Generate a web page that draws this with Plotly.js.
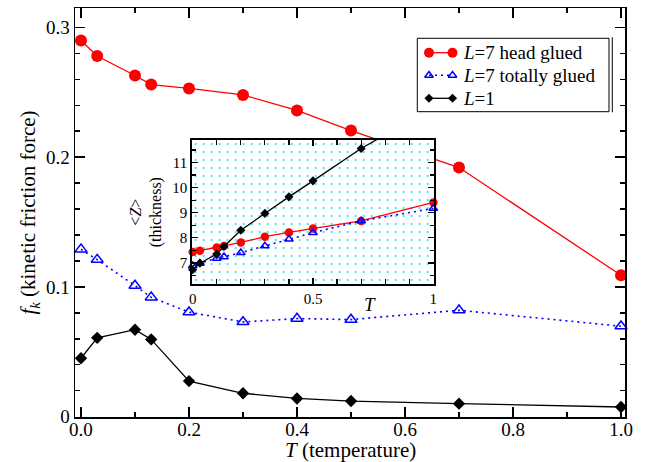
<!DOCTYPE html>
<html>
<head>
<meta charset="utf-8">
<script src="https://cdn.plot.ly/plotly-3.0.1.min.js"></script>
<style>html,body{margin:0;padding:0;background:#fff;}#chart{width:645px;height:462px;}</style>
</head>
<body>
<div id="chart"></div>
<script>
// ---- Main panel data: kinetic friction force vs temperature ----
var T = [0, 0.03, 0.1, 0.13, 0.2, 0.3, 0.4, 0.5, 0.7, 1.0];
var fkHeadGlued = [0.290, 0.278, 0.263, 0.256, 0.253, 0.248, 0.236, 0.2205, 0.192, 0.109];
var fkTotallyGlued = [0.129, 0.121, 0.101, 0.092, 0.0805, 0.073, 0.0756, 0.0748, 0.082, 0.0697];
var fkL1 = [0.045, 0.0607, 0.067, 0.0595, 0.0274, 0.018, 0.014, 0.012, 0.010, 0.0074];

// ---- Inset data: thickness <Z> vs temperature ----
var Tin = [0, 0.03, 0.1, 0.13, 0.2, 0.3, 0.4, 0.5, 0.7, 1.0];
var zHeadGlued = [7.43, 7.48, 7.61, 7.67, 7.81, 8.04, 8.21, 8.37, 8.67, 9.41];
var zTotallyGlued = [6.88, 6.98, 7.18, 7.24, 7.40, 7.67, 7.94, 8.20, 8.67, 9.17];
var zL1 = [6.72, 6.98, 7.35, 7.65, 8.30, 8.97, 9.63, 10.27, 11.56, 13.2];

// ---- Labels ----
var seriesNames = ['<i>L</i>=7 head glued', '<i>L</i>=7 totally glued', '<i>L</i>=1'];
var xTitle = '<i>T</i> (temperature)';
var yTitle = '<i>f<sub>k</sub></i> (kinetic friction force)';
var insetXTitle = '<i>T</i>';
var insetYTitle = '&lt;<i>Z</i>&gt;<br>(thickness)';
var mainXTicks = [0, 0.2, 0.4, 0.6, 0.8, 1.0];
var mainXTickText = ['0.0', '0.2', '0.4', '0.6', '0.8', '1.0'];
var mainYTicks = [0, 0.1, 0.2, 0.3];
var mainYTickText = ['0', '0.1', '0.2', '0.3'];
var insetXTicks = [0, 0.5, 1];
var insetXTickText = ['0', '0.5', '1'];
var insetYTicks = [7, 8, 9, 10, 11];
var insetYTickText = ['7', '8', '9', '10', '11'];

// ---- Styling / geometry ----
var FONT = '"Liberation Serif", "Times New Roman", serif';
var RED = '#ff0000', BLUE = '#0000ff', BLACK = '#000000';
var W = 645, H = 462, M = {l: 75, r: 20, t: 8, b: 45};
var plotL = M.l, plotR = W - M.r, plotT = M.t, plotB = H - M.b;
function pxX(x) { return (x - plotL) / (plotR - plotL); }
function pxY(y) { return (plotB - y) / (plotB - plotT); }

var insetXRange = [-0.004, 1.004];
var insetYRange = [6.14, 11.9];

function lineStyle(i) {
  if (i === 0) return {color: RED, width: 1.3};
  if (i === 1) return {color: BLUE, width: 1.6, dash: '2px,4px'};
  return {color: BLACK, width: 1.3};
}
function markerStyle(i, size) {
  if (i === 0) return {symbol: 'circle', color: RED, size: size};
  if (i === 1) return {symbol: 'triangle-up-open', color: BLUE, size: size, line: {width: 1.5, color: BLUE}};
  return {symbol: 'diamond', color: BLACK, size: size};
}
var mainSizes = [12, 10.5, 9.5], insetSizes = [8.5, 7.5, 7], legendSizes = [10, 7.5, 7];

var mainY = [fkHeadGlued, fkTotallyGlued, fkL1];
var insetY = [zHeadGlued, zTotallyGlued, zL1];

var traces = [];
for (var i = 0; i < 3; i++) {
  traces.push({x: T, y: mainY[i], name: seriesNames[i], type: 'scatter', mode: 'lines+markers',
    line: lineStyle(i), marker: markerStyle(i, mainSizes[i]), cliponaxis: false, showlegend: false});
}
// inset background (dotted cyan pattern), spanning the inset axis ranges
traces.push({type: 'bar', xaxis: 'x2', yaxis: 'y2',
  x: [(insetXRange[0] + insetXRange[1]) / 2], width: [insetXRange[1] - insetXRange[0]],
  base: [insetYRange[0]], y: [insetYRange[1] - insetYRange[0]],
  marker: {color: 'white', line: {width: 0},
           pattern: {shape: '.', fgcolor: '#00e8f0', bgcolor: 'white', size: 8, solidity: 0.05, fillmode: 'replace'}},
  showlegend: false, hoverinfo: 'skip'});
for (var i = 0; i < 3; i++) {
  traces.push({x: Tin, y: insetY[i], xaxis: 'x2', yaxis: 'y2', type: 'scatter', mode: 'lines+markers',
    line: lineStyle(i), marker: markerStyle(i, insetSizes[i]), showlegend: false, cliponaxis: false});
}

// ---- Hand-built legend (xmgrace style: marker - line - marker) ----
var legBox = {l: 417.3, r: 609, t: 38.3, b: 111.7};
var legRows = [52.7, 75.3, 98.3];
var legSampleL = 429, legSampleR = 452.5, legTextX = 461;
for (var i = 0; i < 3; i++) {
  traces.push({x: [legSampleL, legSampleR], y: [legRows[i], legRows[i]], xaxis: 'x3', yaxis: 'y3',
    type: 'scatter', mode: 'lines+markers', line: lineStyle(i), marker: markerStyle(i, legendSizes[i]),
    showlegend: false, hoverinfo: 'skip'});
}
var annotations = [
  {xref: 'paper', yref: 'paper', x: pxX(370), y: pxY(304), xanchor: 'center', yanchor: 'middle',
   text: insetXTitle, showarrow: false, font: {family: FONT, size: 19, color: BLACK}},
  {xref: 'paper', yref: 'paper', x: pxX(350), y: pxY(450), xanchor: 'center', yanchor: 'middle',
   text: xTitle, showarrow: false, font: {family: FONT, size: 21, color: BLACK}}
];
for (var i = 0; i < 3; i++) {
  annotations.push({xref: 'paper', yref: 'paper', x: pxX(legTextX), y: pxY(legRows[i]),
    xanchor: 'left', yanchor: 'middle', text: seriesNames[i], showarrow: false,
    font: {family: FONT, size: 19, color: BLACK}});
}
var shapes = [
  {type: 'rect', xref: 'paper', yref: 'paper', x0: pxX(legBox.l), x1: pxX(legBox.r), y0: pxY(legBox.b), y1: pxY(legBox.t),
   line: {color: BLACK, width: 1}, fillcolor: 'white', layer: 'below'},
  {type: 'line', xref: 'paper', yref: 'paper', x0: pxX(legBox.r + 3.3), x1: pxX(legBox.r + 3.3), y0: pxY(legBox.b + 0.6), y1: pxY(legBox.t - 1),
   line: {color: BLACK, width: 1}}
];

function axisCommon() {
  return {
    showline: true, linecolor: BLACK, linewidth: 1.5, mirror: 'allticks',
    ticks: 'inside', tickcolor: BLACK, tickwidth: 1.5,
    showgrid: false, zeroline: false, tickmode: 'array'
  };
}

var layout = {
  width: W, height: H,
  margin: {l: M.l, r: M.r, t: M.t, b: M.b, pad: 0},
  paper_bgcolor: 'white', plot_bgcolor: 'rgba(0,0,0,0)',
  font: {family: FONT, color: BLACK, size: 19},
  showlegend: false,
  xaxis: Object.assign(axisCommon(), {
    domain: [0, 1], anchor: 'y', range: [-0.0111, 1.0074],
    tickvals: mainXTicks, ticktext: mainXTickText, ticklen: 10, ticklabelstandoff: -5,
    minor: {dtick: 0.1, tick0: 0, ticks: 'inside', ticklen: 5, tickwidth: 1.5, tickcolor: BLACK, showgrid: false},
    tickfont: {family: FONT, size: 19}
  }),
  yaxis: Object.assign(axisCommon(), {
    domain: [0, 1], anchor: 'x', range: [-0.0003, 0.315],
    tickvals: mainYTicks, ticktext: mainYTickText, ticklen: 10,
    minor: {dtick: 0.02, tick0: 0, ticks: 'inside', ticklen: 5, tickwidth: 1.5, tickcolor: BLACK, showgrid: false},
    tickfont: {family: FONT, size: 19},
    title: {text: yTitle, font: {family: FONT, size: 21}, standoff: 4}
  }),
  xaxis2: Object.assign(axisCommon(), {
    domain: [0.2122, 0.6533], anchor: 'y2', range: insetXRange,
    tickvals: insetXTicks, ticktext: insetXTickText, ticklen: 6,
    minor: {dtick: 0.1, tick0: 0, ticks: 'inside', ticklen: 5, tickwidth: 1.2, tickcolor: BLACK, showgrid: false},
    tickfont: {family: FONT, size: 15}
  }),
  yaxis2: Object.assign(axisCommon(), {
    domain: [0.3244, 0.6773], anchor: 'x2', range: insetYRange,
    tickvals: insetYTicks, ticktext: insetYTickText, ticklen: 6,
    minor: {dtick: 0.5, tick0: 0, ticks: 'inside', ticklen: 4, tickwidth: 1.2, tickcolor: BLACK, showgrid: false},
    tickfont: {family: FONT, size: 15},
    title: {text: insetYTitle, font: {family: FONT, size: 16}, standoff: 6}
  }),
  xaxis3: {domain: [0, 1], anchor: 'y3', range: [plotL, plotR], visible: false, showgrid: false, zeroline: false},
  yaxis3: {domain: [0, 1], anchor: 'x3', range: [plotB, plotT], visible: false, showgrid: false, zeroline: false},
  annotations: annotations,
  shapes: shapes
};

Plotly.newPlot('chart', traces, layout, {displayModeBar: false, staticPlot: true});
</script>
</body>
</html>
